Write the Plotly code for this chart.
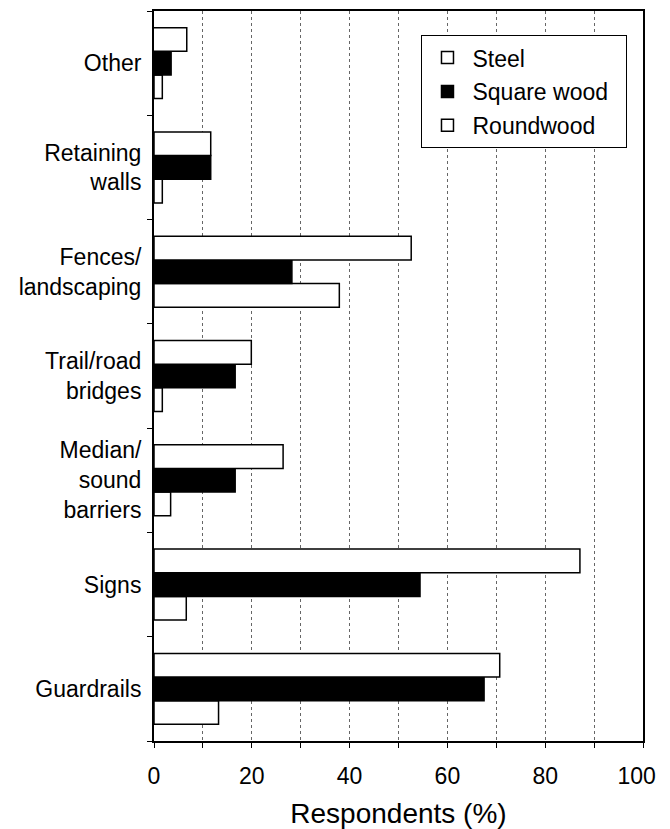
import plotly.graph_objects as go

categories = ["Guardrails", "Signs", "Median/<br>sound<br>barriers", "Trail/road<br>bridges",
              "Fences/<br>landscaping", "Retaining<br>walls", "Other"]
steel = [70.7, 87.1, 26.4, 19.9, 52.6, 11.6, 8.3]
steel_base = [0, 0, 0, 0, 0, 0, -1.6]
square_wood = [67.5, 54.4, 16.6, 16.6, 28.2, 11.6, 3.5]
roundwood = [13.2, 6.6, 3.4, 1.7, 37.9, 1.7, 1.7]
x_ticks = [0, 20, 40, 60, 80, 100]
x_tick_labels = ["0", "20", "40", "60", "80", "100\u00a0\u00a0"]

FONT = "Liberation Sans, Arial, Helvetica, sans-serif"
line = dict(color="black", width=1.5)
NB = "\u00a0"

fig = go.Figure()
fig.add_trace(go.Bar(y=categories, x=roundwood, name="Roundwood", orientation="h",
                     marker=dict(color="white", line=line), legendgroup="c", legendrank=3))
fig.add_trace(go.Bar(y=categories, x=square_wood, name="Square wood" + NB * 2, orientation="h",
                     marker=dict(color="black", line=line), legendgroup="b", legendrank=2))
fig.add_trace(go.Bar(y=categories, x=steel, base=steel_base, name="Steel", orientation="h",
                     marker=dict(color="white", line=line), legendgroup="a", legendrank=1,
                     cliponaxis=False))

fig.update_layout(
    width=662, height=821,
    margin=dict(l=146, r=24, t=1, b=79),
    paper_bgcolor="white", plot_bgcolor="white",
    font=dict(family=FONT, size=23, color="black"),
    barmode="group", bargap=0.32, bargroupgap=0,
    legend=dict(x=0.547, y=0.967, xanchor="left", yanchor="top",
                bordercolor="black", borderwidth=1, bgcolor="white",
                traceorder="grouped", tracegroupgap=1, itemwidth=40,
                font=dict(family=FONT, size=23, color="black")),
    xaxis=dict(range=[0, 100], tickvals=x_ticks, ticktext=x_tick_labels,
               ticks="outside", ticklen=5, ticklabeloverflow="allow",
               tickcolor="black", showline=True, linecolor="black", linewidth=2,
               mirror=True, showgrid=True, gridcolor="#666", griddash="dot",
               gridwidth=1, zeroline=False, ticklabelstandoff=8,
               minor=dict(dtick=10, ticks="outside", ticklen=5, tickcolor="black",
                          showgrid=True, gridcolor="#666", griddash="dot", gridwidth=1),
               title=dict(text="Respondents (%)", standoff=20)),
    yaxis=dict(categoryorder="array", categoryarray=categories, type="category",
               tickson="boundaries", ticks="outside", ticklen=5, tickcolor="black",
               showline=True, linecolor="black", linewidth=2, mirror=True,
               showgrid=False, zeroline=False, ticklabelstandoff=6),
)

fig.write_html("out.html")
